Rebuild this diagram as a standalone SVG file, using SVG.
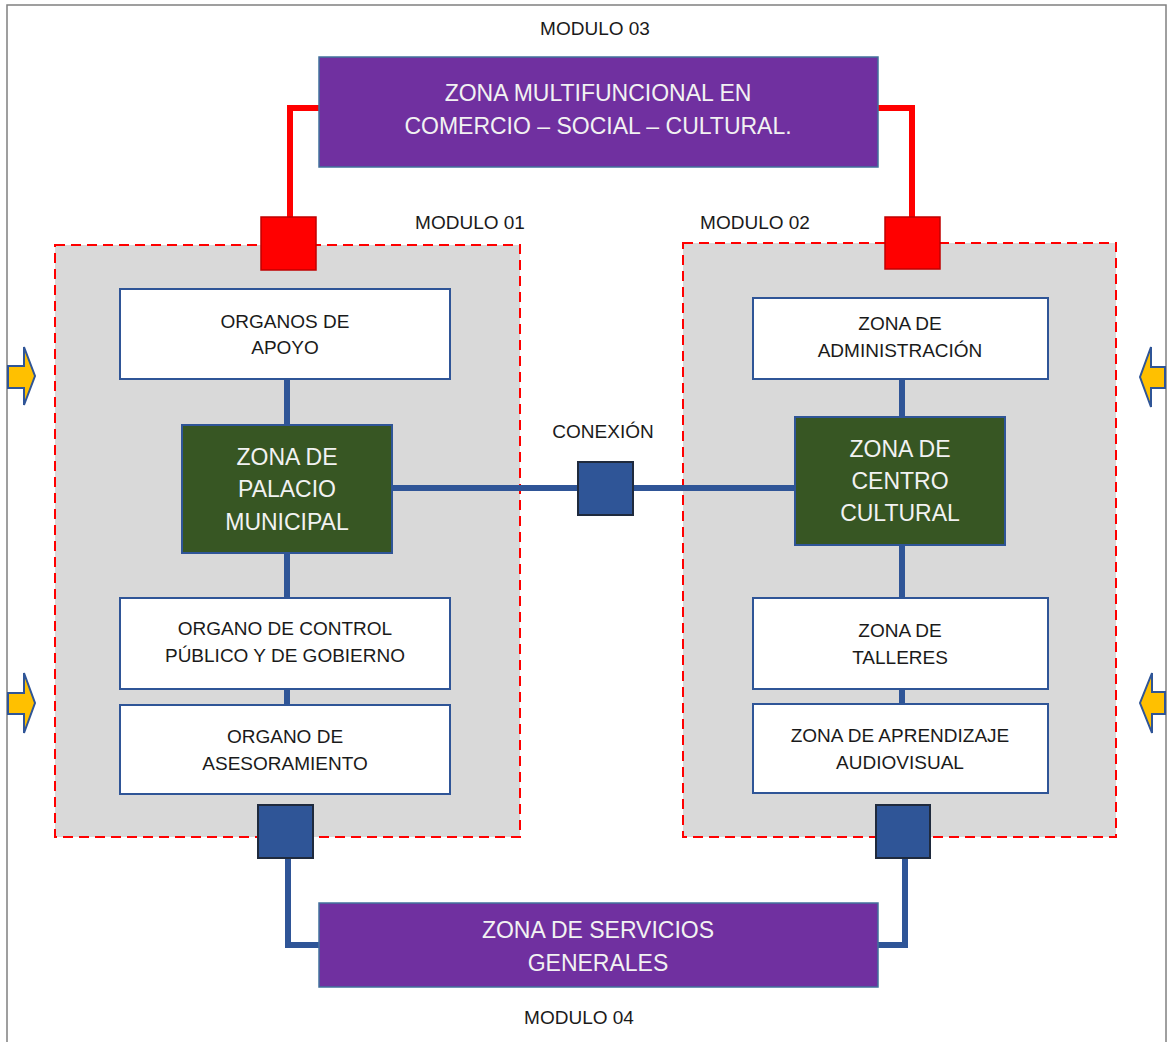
<svg xmlns="http://www.w3.org/2000/svg" width="1170" height="1042" viewBox="0 0 1170 1042">
  <style>
    .txt { font-family: "Liberation Sans", Arial, sans-serif; text-anchor: middle; }
    .dark { fill: #1a1a1a; font-size: 19px; }
    .light { fill: #f2f2f2; font-size: 23px; }
    .module { fill: #d9d9d9; stroke: #ff0000; stroke-width: 2; stroke-dasharray: 10 6; }
    .box { fill: #ffffff; stroke: #2f5597; stroke-width: 2; }
    .green { fill: #375623; stroke: #2f5597; stroke-width: 2; }
    .purple { fill: #7030a0; stroke: #41719c; stroke-width: 1.5; }
    .redsq { fill: #ff0000; stroke: #c00000; stroke-width: 1.5; }
    .bluesq { fill: #2f5597; stroke: #1f2a3d; stroke-width: 2; }
    .blink { fill: none; stroke: #2f5597; stroke-width: 6; }
    .rlink { fill: none; stroke: #ff0000; stroke-width: 6; }
    .arrow { fill: #ffc000; stroke: #2f5597; stroke-width: 2; stroke-linejoin: miter; }
  </style>

  <rect x="0" y="0" width="1170" height="1042" fill="#ffffff"/>
  <!-- outer frame -->
  <rect x="7" y="5" width="1159" height="1050" fill="none" stroke="#808080" stroke-width="1.5"/>

  <!-- module backgrounds -->
  <g id="modulo-01">
    <rect class="module" x="55" y="245" width="465" height="592"/>
    <text class="txt dark" x="470" y="229">MODULO 01</text>
  </g>
  <g id="modulo-02">
    <rect class="module" x="683" y="243" width="433" height="594"/>
    <text class="txt dark" x="755" y="229">MODULO 02</text>
  </g>

  <!-- connectors -->
  <g id="connectors">
    <path class="rlink" d="M290 217 V108 H319"/>
    <path class="rlink" d="M912 217 V108 H878"/>
    <path class="blink" d="M287 379 V425"/>
    <path class="blink" d="M287 553 V598"/>
    <path class="blink" d="M287 689 V705"/>
    <path class="blink" d="M902 379 V417"/>
    <path class="blink" d="M902 545 V598"/>
    <path class="blink" d="M902 689 V704"/>
    <path class="blink" d="M392 488 H795"/>
    <path class="blink" d="M288 858 V945 H319"/>
    <path class="blink" d="M905 858 V945 H878"/>
  </g>

  <!-- top zone -->
  <g id="zona-multifuncional">
    <rect class="purple" x="319" y="57" width="559" height="110"/>
    <text class="txt light" x="598" y="101">ZONA MULTIFUNCIONAL EN</text>
    <text class="txt light" x="598" y="134">COMERCIO – SOCIAL – CULTURAL.</text>
  </g>
  <text class="txt dark" x="595" y="35">MODULO 03</text>

  <!-- access squares -->
  <g id="acceso-rojo-01"><rect class="redsq" x="261" y="217" width="55" height="53"/></g>
  <g id="acceso-rojo-02"><rect class="redsq" x="885" y="217" width="55" height="52"/></g>

  <!-- module 01 -->
  <g id="organos-apoyo">
    <rect class="box" x="120" y="289" width="330" height="90"/>
    <text class="txt dark" x="285" y="328">ORGANOS DE</text>
    <text class="txt dark" x="285" y="354">APOYO</text>
  </g>
  <g id="palacio-municipal">
    <rect class="green" x="182" y="425" width="210" height="128"/>
    <text class="txt light" x="287" y="465">ZONA DE</text>
    <text class="txt light" x="287" y="497">PALACIO</text>
    <text class="txt light" x="287" y="530">MUNICIPAL</text>
  </g>
  <g id="organo-control">
    <rect class="box" x="120" y="598" width="330" height="91"/>
    <text class="txt dark" x="285" y="635">ORGANO DE CONTROL</text>
    <text class="txt dark" x="285" y="662">PÚBLICO Y DE GOBIERNO</text>
  </g>
  <g id="organo-asesoramiento">
    <rect class="box" x="120" y="705" width="330" height="89"/>
    <text class="txt dark" x="285" y="743">ORGANO DE</text>
    <text class="txt dark" x="285" y="770">ASESORAMIENTO</text>
  </g>

  <!-- module 02 -->
  <g id="zona-administracion">
    <rect class="box" x="753" y="298" width="295" height="81"/>
    <text class="txt dark" x="900" y="330">ZONA DE</text>
    <text class="txt dark" x="900" y="357">ADMINISTRACIÓN</text>
  </g>
  <g id="centro-cultural">
    <rect class="green" x="795" y="417" width="210" height="128"/>
    <text class="txt light" x="900" y="457">ZONA DE</text>
    <text class="txt light" x="900" y="489">CENTRO</text>
    <text class="txt light" x="900" y="521">CULTURAL</text>
  </g>
  <g id="zona-talleres">
    <rect class="box" x="753" y="598" width="295" height="91"/>
    <text class="txt dark" x="900" y="637">ZONA DE</text>
    <text class="txt dark" x="900" y="664">TALLERES</text>
  </g>
  <g id="zona-aprendizaje">
    <rect class="box" x="753" y="704" width="295" height="89"/>
    <text class="txt dark" x="900" y="742">ZONA DE APRENDIZAJE</text>
    <text class="txt dark" x="900" y="769">AUDIOVISUAL</text>
  </g>

  <!-- central link -->
  <g id="conexion">
    <rect class="bluesq" x="578" y="462" width="55" height="53"/>
    <text class="txt dark" x="603" y="438">CONEXIÓN</text>
  </g>

  <!-- service access squares -->
  <g id="acceso-azul-01"><rect class="bluesq" x="258" y="805" width="55" height="53"/></g>
  <g id="acceso-azul-02"><rect class="bluesq" x="876" y="805" width="54" height="53"/></g>

  <!-- bottom zone -->
  <g id="servicios-generales">
    <rect class="purple" x="319" y="903" width="559" height="84"/>
    <text class="txt light" x="598" y="938">ZONA DE SERVICIOS</text>
    <text class="txt light" x="598" y="971">GENERALES</text>
  </g>
  <text class="txt dark" x="579" y="1024">MODULO 04</text>

  <!-- entrance arrows -->
  <g id="ingreso-izq-1"><path class="arrow" d="M8 366 H24 V347 L35 376 L24 405 V388 H8 Z"/></g>
  <g id="ingreso-izq-2"><path class="arrow" d="M8 693 H24 V673 L35 703 L24 733 V714 H8 Z"/></g>
  <g id="ingreso-der-1"><path class="arrow" d="M1165 367 H1151 V347 L1140 377 L1151 407 V388 H1165 Z"/></g>
  <g id="ingreso-der-2"><path class="arrow" d="M1165 692 H1152 V673 L1140 703 L1152 733 V714 H1165 Z"/></g>
</svg>
